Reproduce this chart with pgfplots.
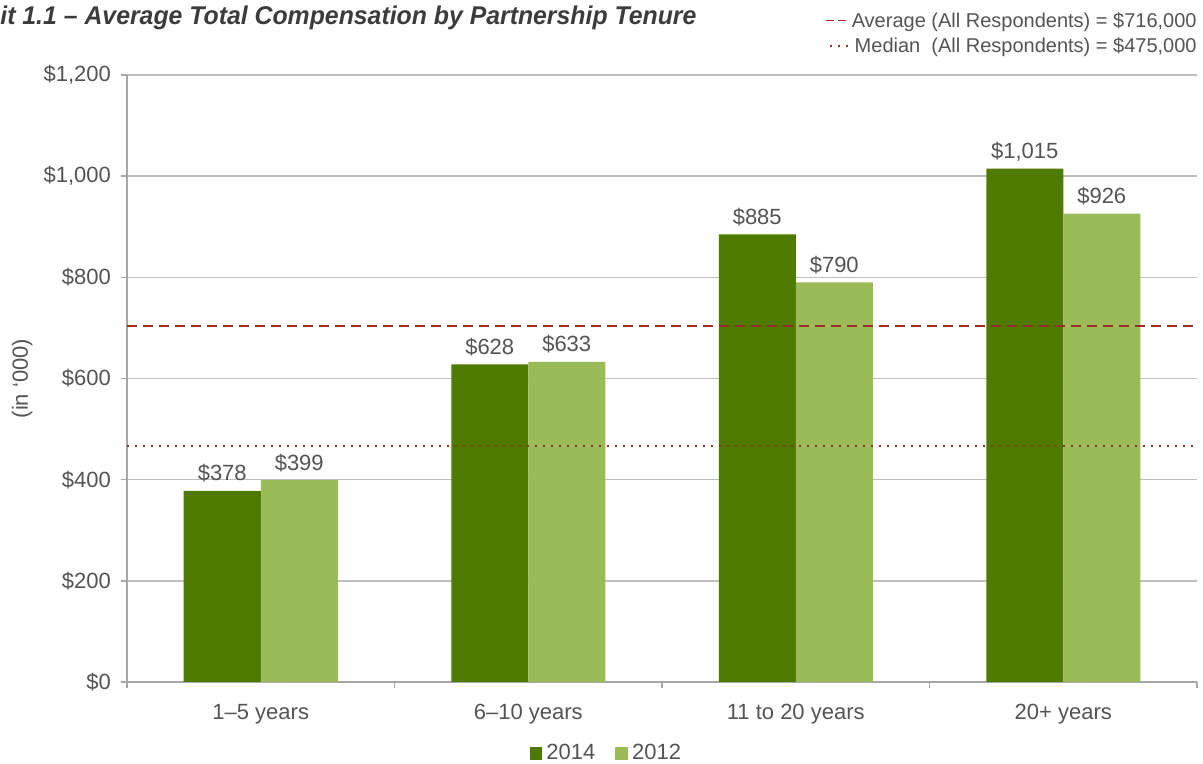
\documentclass[border=0pt]{standalone}
\usepackage{fontspec}
\setmainfont{Liberation Sans}
\usepackage{graphicx}
\usepackage{pgfplots}
\pgfplotsset{compat=1.18}
\definecolor{darkg}{RGB}{78,122,0}
\definecolor{lightg}{RGB}{155,187,89}
\definecolor{refred}{RGB}{158,42,42}
\definecolor{txt}{RGB}{84,84,84}
\definecolor{titlec}{RGB}{60,60,60}
\definecolor{gridc}{RGB}{190,190,190}
\definecolor{axisc}{RGB}{166,166,166}

\pgfplotstableread{
x v2014 v2012
0 378 399
1 628 633
2 885 790
3 1015 926
}\datatable

\begin{document}
\begin{tikzpicture}[font=\fontsize{11}{13}\selectfont]
\path[use as bounding box] (-63.5pt,-41pt) rectangle (538pt,341pt);
\begin{axis}[
  name=ax,
  at={(0,0)}, anchor=south west,
  scale only axis, width=535pt, height=303.5pt,
  ybar=0pt, bar width=38.5pt,
  xmin=-0.5, xmax=3.5, ymin=0, ymax=1200,
  xtick={0,1,2,3},
  xticklabels={1–5 years, 6–10 years, 11 to 20 years, 20+ years},
  minor xtick={-0.5,0.5,1.5,2.5,3.5},
  major x tick style={draw=none},
  ytick={0,200,...,1200},
  tick align=outside,
  tick style={axisc, line width=0.75pt},
  minor tick length=3pt, major tick length=3pt,
  axis x line*=bottom, axis y line*=left,
  axis line style={axisc, line width=0.75pt, -},
  ymajorgrids, grid style={gridc, line width=0.75pt},
  /pgf/number format/1000 sep={,},
  /pgf/number format/assume math mode=true,
  yticklabel={\$\pgfmathprintnumber{\tick}},
  ticklabel style={text=txt, font=\fontsize{11}{13}\selectfont},
  xticklabel style={yshift=-4.5pt},
  yticklabel style={xshift=-1.5pt},
  ylabel={(in ‘000)},
  ylabel style={at={(axis description cs:-0.098,0.5)}, anchor=center, text=txt, font=\fontsize{11}{13}\selectfont},
  legend style={at={(0.449,-0.118)}, anchor=center, draw=none, fill=none,
    legend columns=2, text=txt, font=\fontsize{11}{13}\selectfont,
    /tikz/every even column/.append style={column sep=8pt}},
  legend image code/.code={\fill[#1] (0pt,-3.2pt) rectangle (6.4pt,3.2pt);},
  every node near coord/.append style={text=txt, font=\fontsize{11}{13}\selectfont, anchor=base, yshift=5pt},
]
\addplot[fill=darkg, draw=none, bar shift=-19.25pt,
  nodes near coords={\$\pgfmathprintnumber{\pgfplotspointmeta}}]
  table[x=x, y=v2014] {\datatable};
\addlegendentry{2014}
\addplot[fill=lightg, draw=none, bar shift=19.25pt,
  nodes near coords={\$\pgfmathprintnumber{\pgfplotspointmeta}}]
  table[x=x, y=v2012] {\datatable};
\addlegendentry{2012}
\addplot[sharp plot, forget plot, refred, line width=1pt, dash pattern=on 5pt off 3pt]
  coordinates {(-0.5,704) (3.5,704)};
\addplot[sharp plot, forget plot, refred, line width=1.1pt, dash pattern=on 1.1pt off 2.9pt]
  coordinates {(-0.5,467) (3.5,467)};
\end{axis}
\node[anchor=base west, inner sep=0, text=titlec] at (-63.5pt,328.5pt)
  {\resizebox{348pt}{9.3pt}{\bfseries\itshape it 1.1 – Average Total Compensation by Partnership Tenure}};
\node[anchor=base east, inner sep=0, text=txt, font=\fontsize{10}{12}\selectfont] (l1) at (535pt,327pt)
  {Average (All Respondents) = \$716,000};
\node[anchor=base east, inner sep=0, text=txt, font=\fontsize{10}{12}\selectfont] (l2) at (535pt,314.5pt)
  {Median\ \ (All Respondents) = \$475,000};
\draw[refred, line width=0.6pt, dash pattern=on 4pt off 2pt] ([xshift=-12.5pt, yshift=3.6pt]l1.base west) -- ++(10pt,0);
\draw[refred, line width=1pt, dash pattern=on 1pt off 3pt] ([xshift=-12pt, yshift=3.6pt]l2.base west) -- ++(10pt,0);
\end{tikzpicture}
\end{document}
